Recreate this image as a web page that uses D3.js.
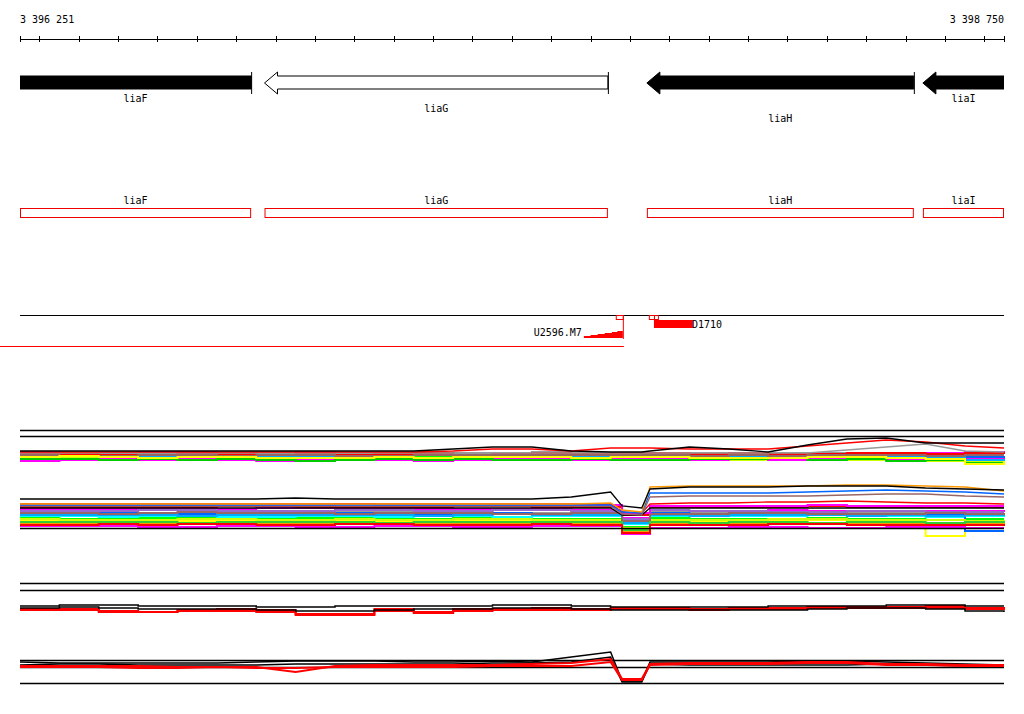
<!DOCTYPE html>
<html><head><meta charset="utf-8">
<script src="https://cdn.jsdelivr.net/npm/d3@7"></script>
<style>
body{margin:0;background:#fff;}
text{font-family:"DejaVu Sans Mono",monospace;font-size:10px;fill:#000;}
</style></head>
<body><svg id="c" width="1024" height="714"></svg>
<script>
// ---------- DATA ----------
const viewStart = 3396251, viewEnd = 3398750;
const rulerTicks = [3396251,3396300,3396400,3396500,3396600,3396700,3396800,3396900,3397000,3397100,3397200,3397300,3397400,3397500,3397600,3397700,3397800,3397900,3398000,3398100,3398200,3398300,3398400,3398500,3398600,3398700,3398750];
const rulerLabels = ["3 396 251","3 398 750"];

const geneNames  = ["liaF","liaG","liaH","liaI"];
const geneStarts = [3395900,3396872,3397843,3398544];
const geneEnds   = [3396838,3397744,3398521,3398990];
const geneFilled = [true,false,true,true];
const geneLabelRow = [0,1,2,0];

const probeNames = ["U2596.M7","D1710"];
const probeSquares = [[3397764,3397782],[3397848,3397861],[3397861,3397871]];
const rampPos = [3397683,3397700,3397718,3397736,3397754,3397768,3397782];
const rampVal = [1,2,3,4,5,6,7];
const d1710 = [3397861,3397960];
const redLine = [3396200,3397782];

// positions for expression profiles
const pos = [3396251,3396351,3396451,3396551,3396651,3396751,3396851,3396951,3397051,3397151,3397251,3397351,3397451,3397551,3397651,3397751,3397780,3397830,3397851,3397951,3398051,3398151,3398251,3398351,3398451,3398551,3398651,3398750];

// upper expression group
const topRefs = [40,34];
const topBlack = [19,19,19,19,19,19,19,19,19,19,19,21,23,23,19,18,18,18,19,23,21,18,25,31,32,27,27,27];
const topRed   = [18,18,18,18,18,18,18,18,18,18,18,19,21,21,19,22,22,22,22,21,21,21,24,27,30,28,24,22];
const topGray  = [17,17,17,17,17,17,17,17,17,17,17,17,17,17,17,17,17,17,17,17,17,17,17,20,23,26,19,18];
const topColors = ["#9966cc","#ff00ff","#00ffff","#00ff00","#0066ff","#ff9900","#999999","#ccff00","#ff0000","#ff00ff","#00cc00","#00aaff","#996666","#ffff00"];
const topSeries = [
 [14,15,15,14,14,15,14,13,15,14,14,13,15,14,13,14,14,14,14,13,14,13,14,13,12,15,14,14],
 [18,17,17,18,18,17,17,18,16,16,15,17,17,16,16,15,15,15,15,16,16,15,15,16,14,17,18,17],
 [16,15,16,16,15,15,16,15,16,15,16,15,14,15,15,16,16,16,16,15,14,13,14,15,15,14,12,13],
 [13,12,13,12,13,12,11,12,11,12,13,12,12,11,12,11,11,11,11,12,12,11,11,12,11,10,9,10],
 [15,16,14,14,16,14,15,14,14,15,15,14,16,15,14,13,13,13,13,14,15,14,13,14,14,13,13,12],
 [17,17,16,16,15,16,17,16,17,16,16,16,15,16,17,16,16,16,16,17,16,16,15,16,16,15,16,16],
 [17,16,17,17,16,17,16,17,17,17,17,17,17,18,17,17,17,17,17,17,16,17,17,16,16,16,15,15],
 [12,13,12,13,12,11,12,11,12,11,12,12,11,12,11,12,12,12,12,11,10,11,12,10,11,9,8,8],
 [16,16,15,15,17,16,15,16,15,16,17,15,16,17,16,17,17,17,17,16,17,16,16,17,17,16,17,16],
 [9,10,11,10,11,10,9,10,11,10,9,10,11,11,10,11,11,11,11,10,11,10,11,11,10,12,11,12],
 [11,11,10,11,10,11,10,9,10,11,10,11,10,10,11,10,10,10,10,11,11,12,10,11,9,10,7,8],
 [14,14,13,13,14,13,13,13,13,13,12,13,14,13,14,14,14,14,14,13,13,14,13,14,13,12,10,11],
 [15,14,14,15,15,14,15,15,14,14,15,15,15,15,15,15,15,15,15,14,15,14,15,15,15,14,15,15],
 [13,14,13,12,13,13,12,12,12,13,12,13,13,13,12,13,13,13,13,12,12,12,13,13,12,11,6,9]
];

// lower expression group
const lowRefs = [12];
const lowBlack  = [41,41,41,41,41,41,41,42,41,41,41,41,41,41,43,48,34,32,51,53,53,53,54,54,54,52,51,50];
const lowOrange = [36,36,36,36,36,36,36,36,36,36,36,36,36,36,36,37,30,28,53,54,54,54,54,55,55,54,53,49];
const lowBlue   = [35,35,35,35,35,35,35,35,35,35,35,35,35,35,35,35,28,27,47,47,47,47,48,49,50,49,48,46];
const lowBrown  = [34,34,34,34,34,34,34,34,34,34,34,34,34,34,34,34,26,25,43,44,44,44,44,45,46,46,44,43];
const lowRed    = [36,36,36,36,36,36,36,36,36,36,36,36,36,36,36,36,28,27,36,37,37,38,38,39,38,37,37,36];
const lowBlack2 = [32,32,32,32,32,32,32,32,32,32,32,32,32,32,32,32,25,25,32,32,32,32,32,32,32,32,32,32];
const lowColors = ["#ff00ff","#00ff00","#999999","#00ffff","#ff9900","#ffff00","#0066ff","#ff0000","#9966cc","#ff00ff","#ccff00","#00aaff","#996666","#33cc33","#ff0000","#ff00ff"];
const lowSeries = [
 [31,31,31,31,31,31,32,32,32,31,31,31,31,31,30,30,22,22,28,29,29,30,29,29,28,29,29,28],
 [22,21,21,22,22,21,21,22,22,21,21,22,22,21,21,21,13,13,22,21,21,21,22,21,21,20,21,21],
 [28,28,28,27,27,28,28,28,29,28,28,28,27,27,28,28,20,20,28,27,26,26,27,27,27,26,26,27],
 [24,24,23,24,24,23,23,24,24,23,25,24,23,24,24,24,16,16,24,25,24,24,25,25,24,23,24,23],
 [17,17,17,16,17,17,16,17,17,16,16,17,16,17,17,16,8,8,16,16,17,17,16,17,16,16,17,16],
 [19,20,20,19,19,20,20,20,19,19,20,20,19,19,20,20,12,12,19,19,20,19,20,19,19,4,18,19],
 [26,26,27,26,26,27,26,26,27,26,26,27,27,26,26,26,18,18,27,26,25,26,26,25,26,25,9,9],
 [33,33,33,33,33,34,34,33,33,33,33,34,34,33,33,33,25,25,33,33,33,33,34,33,33,33,33,33],
 [29,29,29,30,30,29,29,29,30,30,29,29,30,30,29,29,21,21,30,29,29,28,28,29,29,28,28,28],
 [14,14,14,13,13,14,14,13,13,14,14,13,13,14,14,14,6,6,12,12,13,13,12,12,13,13,12,12],
 [21,20,20,20,21,21,20,20,21,20,20,21,21,20,20,20,12,12,20,20,20,21,21,20,20,20,19,20],
 [25,25,25,25,24,25,25,25,25,25,24,25,26,25,25,25,17,17,25,24,25,25,25,24,25,24,25,24],
 [27,27,26,27,28,27,27,27,26,27,27,27,26,26,27,27,19,19,26,26,27,27,26,26,26,27,26,25],
 [18,18,18,18,17,18,18,18,18,17,18,18,18,18,18,18,10,10,18,17,18,18,17,18,18,17,18,17],
 [15,15,16,15,16,16,15,15,16,16,15,15,15,16,15,15,7,7,15,15,15,16,16,15,15,15,15,14],
 [35,35,35,35,35,35,35,35,36,35,35,35,35,35,35,35,27,27,34,34,34,34,35,34,34,34,34,34]
];

// bottom tracks
const b1Refs = [37,30];
const b1Black = [
 [14,15,15,14,14,14,13,13,14,14,14,14,15,15,14,13,13,13,13,13,13,14,14,14,15,15,14,14],
 [12,13,12,11,11,11,10,9,9,10,11,11,12,12,11,10,10,10,10,10,10,10,11,12,12,11,9,8]
];
const b1Red = [
 [11,11,9,8,10,11,10,6,6,11,8,11,11,12,11,12,12,12,12,11,12,12,13,13,13,14,12,11],
 [10,10,8,8,9,9,8,5,5,9,7,9,10,10,10,11,11,11,11,10,11,11,12,12,12,12,11,10]
];
const b2Refs = [30,23,7];
const b2Black = [
 [28,27,27,27,27,27,28,29,29,29,28,28,29,28,33,38,9,9,28,28,28,28,29,29,28,27,26,25],
 [25,26,26,25,25,25,25,26,26,26,26,26,27,27,28,33,8,8,26,25,25,25,25,25,26,25,24,23]
];
const b2Red = [
 [24,24,24,24,23,23,23,18,24,25,25,25,25,26,27,31,11,11,26,27,27,27,28,28,26,26,25,25],
 [23,23,23,22,22,23,22,22,23,23,23,23,24,24,24,28,10,10,25,26,26,26,27,27,25,25,24,24]
];

// ---------- DRAW ----------
const svg = d3.select("#c");
const x = d3.scaleLinear().domain([viewStart, viewEnd]).range([20, 1004]);
const yTop = d3.scaleLinear().domain([0, 40]).range([470, 430]);
const yLow = d3.scaleLinear().domain([0, 50]).range([540, 490]);
const yB1  = d3.scaleLinear().domain([0, 40]).range([620, 580]);
const yB2  = d3.scaleLinear().domain([0, 40]).range([690, 650]);

// ruler
svg.append("text").attr("x", x(viewStart)).attr("y", 23).text(rulerLabels[0]);
svg.append("text").attr("x", x(viewEnd)).attr("y", 23).attr("text-anchor","end").text(rulerLabels[1]);
const axB = d3.axisBottom(x).tickValues(rulerTicks).tickSize(3).tickSizeOuter(0).tickFormat("");
const axT = d3.axisTop(x).tickValues(rulerTicks).tickSize(3).tickSizeOuter(0).tickFormat("");
[axB, axT].forEach(a => {
  const g = svg.append("g").attr("transform","translate(0,38.5)").call(a);
  g.selectAll("path,line").attr("stroke","#000").attr("stroke-width",1).attr("shape-rendering","crispEdges");
});

// gene arrows (reverse strand)
const clipId = "vclip";
svg.append("clipPath").attr("id", clipId).append("rect").attr("x", 20).attr("y", 0).attr("width", 984).attr("height", 714);
const gA = svg.append("g").attr("clip-path", `url(#${clipId})`);
const bodyT = 76, bodyB = 89, headT = 72, headB = 94, headLen = 13;
geneNames.forEach((n, i) => {
  const x0 = x(geneStarts[i]), x1 = x(geneEnds[i]);
  const ym = (headT + headB) / 2;
  const pts = [[x0, ym],[x0+headLen, headT],[x0+headLen, bodyT],[x1, bodyT],[x1, bodyB],[x0+headLen, bodyB],[x0+headLen, headB]];
  gA.append("polygon").attr("points", pts.map(p=>p.join(",")).join(" "))
    .attr("fill", geneFilled[i] ? "#000" : "#fff").attr("stroke","#000").attr("stroke-width",1);
  if (x1 <= 1004) gA.append("line").attr("x1", x1+0.5).attr("x2", x1+0.5).attr("y1", headT).attr("y2", headB).attr("stroke","#000");
  const cx = (Math.max(x0, 20) + Math.min(x1, 1004)) / 2;
  svg.append("text").attr("x", cx).attr("y", 102 + geneLabelRow[i]*10).attr("text-anchor","middle").text(n);
});

// annotation boxes
geneNames.forEach((n, i) => {
  const x0 = Math.max(x(geneStarts[i]), 20), x1 = Math.min(x(geneEnds[i]), 1004);
  svg.append("rect").attr("x", x0+0.5).attr("y", 208.5).attr("width", x1-x0-1).attr("height", 9)
    .attr("fill","none").attr("stroke","#e00").attr("stroke-width",1);
  svg.append("text").attr("x", (x0+x1)/2).attr("y", 204).attr("text-anchor","middle").text(n);
});

// probe track
svg.append("line").attr("x1", x(viewStart)).attr("x2", x(viewEnd)).attr("y1", 315.5).attr("y2", 315.5).attr("stroke","#000");
probeSquares.forEach(s => {
  svg.append("rect").attr("x", x(s[0])+0.5).attr("y", 315.5).attr("width", x(s[1])-x(s[0])).attr("height", 4)
    .attr("fill","none").attr("stroke","#e00");
});
svg.append("line").attr("x1", x(rampPos[rampPos.length-1])+0.5).attr("x2", x(rampPos[rampPos.length-1])+0.5)
  .attr("y1", 315).attr("y2", 339).attr("stroke","#f00");
const yRamp = d3.scaleLinear().domain([0, 7]).range([338, 331]);
svg.append("path").datum(rampPos.map((p,i)=>[p, rampVal[i]]))
  .attr("d", d3.area().x(d=>x(d[0])).y0(yRamp(0)).y1(d=>yRamp(d[1])).curve(d3.curveStepBefore))
  .attr("fill","#f00");
svg.append("text").attr("x", x(rampPos[0])-2).attr("y", 336).attr("text-anchor","end").text(probeNames[0]);
svg.append("rect").attr("x", x(d1710[0])).attr("y", 320).attr("width", x(d1710[1])-x(d1710[0])).attr("height", 8).attr("fill","#f00");
svg.append("text").attr("x", x(d1710[1])-1).attr("y", 328).text(probeNames[1]);
svg.append("line").attr("x1", x(redLine[0])).attr("x2", x(redLine[1])+1).attr("y1", 346.5).attr("y2", 346.5).attr("stroke","#f00");

// helpers
function refLines(scale, vals){
  vals.forEach(v => svg.append("line").attr("x1", 20).attr("x2", 1004)
    .attr("y1", Math.round(scale(v))+0.5).attr("y2", Math.round(scale(v))+0.5)
    .attr("stroke","#000").attr("stroke-width",1.3));
}
function series(scale, vals, color, w, curve){
  const line = d3.line().x((d,i)=>x(pos[i])).y(d=>scale(d)).curve(curve);
  svg.append("path").datum(vals).attr("d", line).attr("fill","none")
    .attr("stroke", color).attr("stroke-width", w);
}

// upper group
refLines(yTop, topRefs);
topSeries.forEach((s,i)=>series(yTop, s, topColors[i], 2, d3.curveStepAfter));
series(yTop, topGray, "#999999", 1.3, d3.curveLinear);
series(yTop, topRed, "#ff0000", 1.3, d3.curveLinear);
series(yTop, topBlack, "#000", 1.3, d3.curveLinear);

// lower group
lowSeries.forEach((s,i)=>series(yLow, s, lowColors[i], 2, d3.curveStepAfter));
series(yLow, lowBlack2, "#000", 1.3, d3.curveLinear);
series(yLow, lowRed, "#ff0000", 1.3, d3.curveLinear);
series(yLow, lowBrown, "#996666", 1.3, d3.curveLinear);
series(yLow, lowBlue, "#0066ff", 1.3, d3.curveLinear);
series(yLow, lowOrange, "#ff9900", 1.3, d3.curveLinear);
series(yLow, lowBlack, "#000", 1.3, d3.curveLinear);
refLines(yLow, lowRefs);

// bottom track 1
refLines(yB1, b1Refs);
b1Red.forEach(s=>series(yB1, s, "#ff0000", 2, d3.curveStepAfter));
b1Black.forEach(s=>series(yB1, s, "#000", 1.5, d3.curveStepAfter));

// bottom track 2
refLines(yB2, b2Refs);
b2Black.forEach(s=>series(yB2, s, "#000", 1.5, d3.curveLinear));
b2Red.forEach(s=>series(yB2, s, "#ff0000", 2, d3.curveLinear));
</script></body></html>
